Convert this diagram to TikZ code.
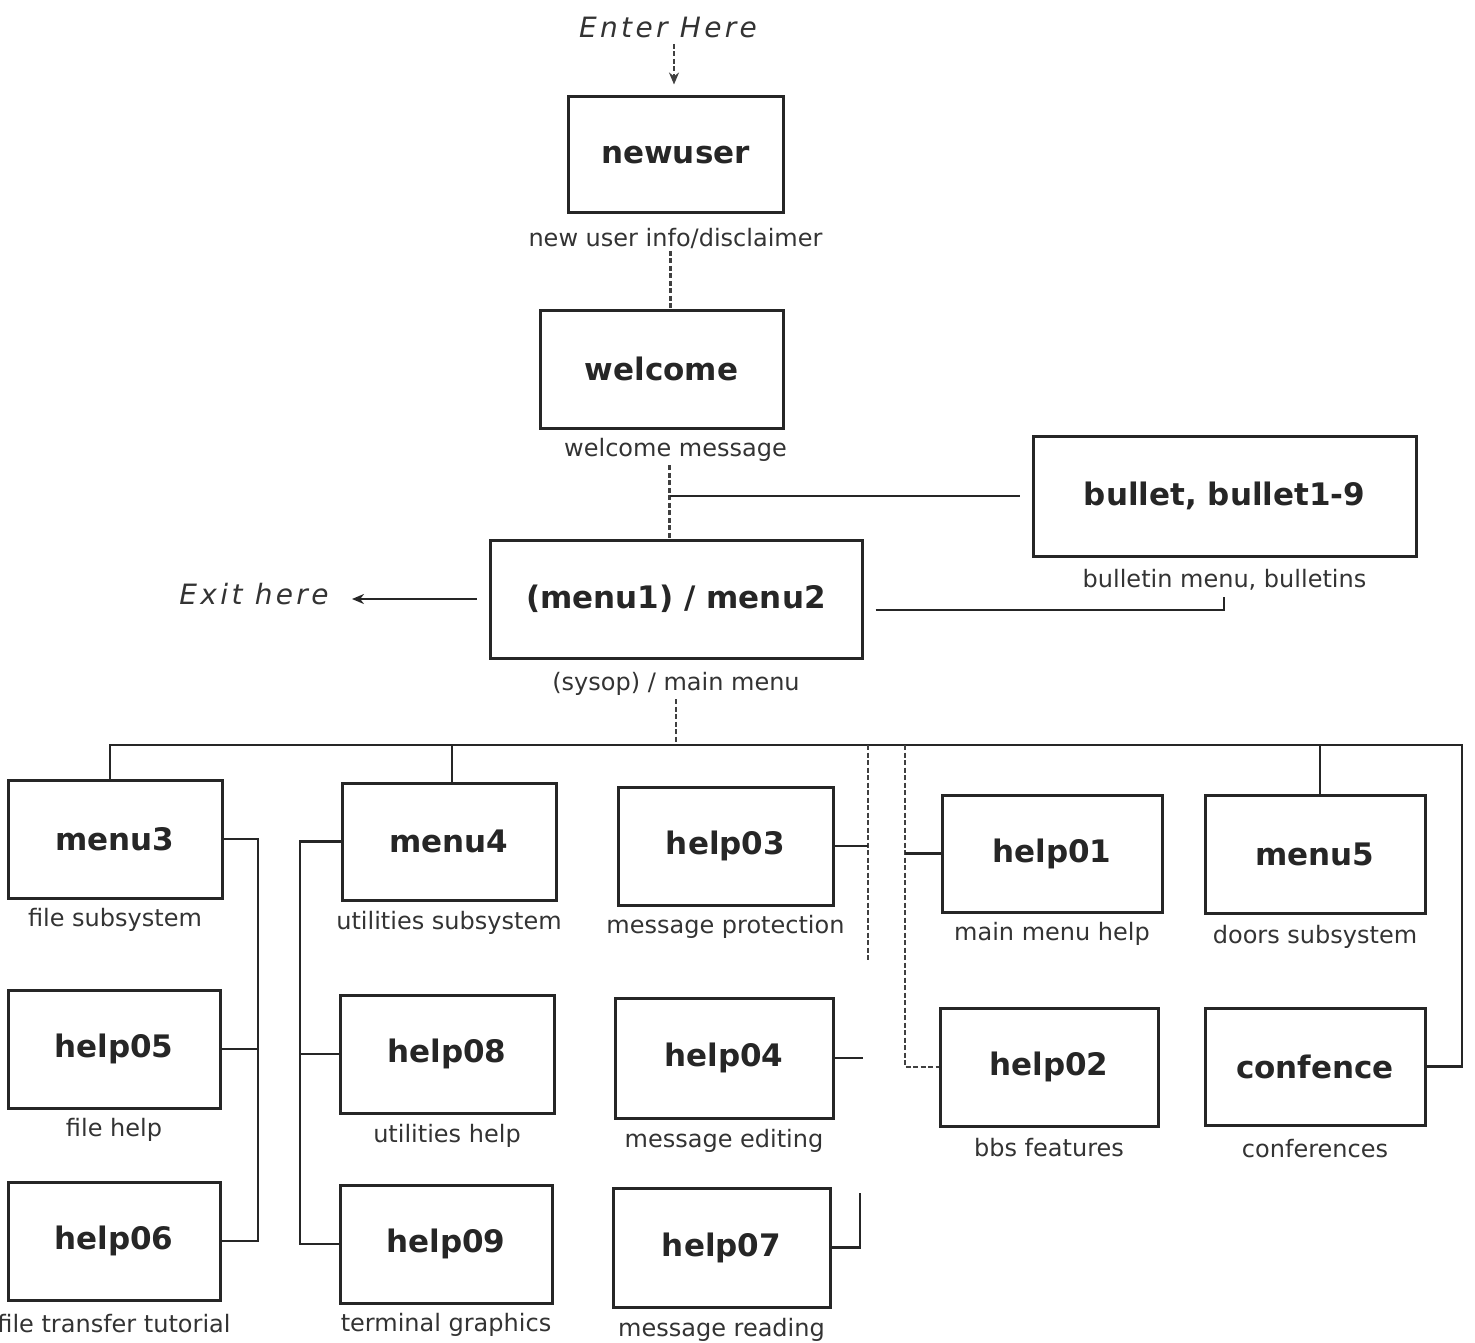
\documentclass[tikz,border=0pt]{standalone}
\usepackage{fontspec}
\setmainfont{DejaVu Sans}
\newfontfamily\itf[LetterSpace=12]{DejaVu Sans Oblique}
\usetikzlibrary{arrows.meta}
\begin{document}
\begin{tikzpicture}[x=1pt,y=-1pt,
  pagebox/.style={draw=black!85,line width=3pt,inner sep=0pt,
    font=\fontsize{31}{36}\selectfont\bfseries,text=black!85},
  captxt/.style={font=\fontsize{24}{28}\selectfont,text=black!80,inner sep=0pt},
  entry/.style={font=\fontsize{28}{34}\selectfont\itf,text=black!80,inner sep=0pt},
  link/.style={line width=2.6pt,draw=black!85},
  dlink/.style={line width=2.4pt,draw=black!75,dash pattern=on 5pt off 2.5pt},
]
\useasboundingbox (0,0) rectangle (1475,1343);

% boxes
\node[pagebox,minimum width=215pt,minimum height=116pt] (newuser) at (675.5,155) {newuser};
\node[pagebox,minimum width=243pt,minimum height=118pt] (welcome) at (661.5,369) {welcome};
\node[pagebox,minimum width=383pt,minimum height=120pt] (bullet) at (1224.5,496) {bullet, bullet1-9};
\node[pagebox,minimum width=372pt,minimum height=118pt] (menu) at (676,599) {(menu1) / menu2};

\node[pagebox,minimum width=214pt,minimum height=118pt] (menu3) at (115,839) {menu3};
\node[pagebox,minimum width=212pt,minimum height=118pt] (help05) at (114,1049) {help05};
\node[pagebox,minimum width=212pt,minimum height=118pt] (help06) at (114,1241) {help06};

\node[pagebox,minimum width=214pt,minimum height=117pt] (menu4) at (449,841.5) {menu4};
\node[pagebox,minimum width=214pt,minimum height=118pt] (help08) at (447,1054) {help08};
\node[pagebox,minimum width=212pt,minimum height=118pt] (help09) at (446,1244) {help09};

\node[pagebox,minimum width=215pt,minimum height=118pt] (help03) at (725.5,846) {help03};
\node[pagebox,minimum width=218pt,minimum height=120pt] (help04) at (724,1058) {help04};
\node[pagebox,minimum width=217pt,minimum height=119pt] (help07) at (721.5,1247.5) {help07};

\node[pagebox,minimum width=220pt,minimum height=117pt] (help01) at (1052,853.5) {help01};
\node[pagebox,minimum width=218pt,minimum height=118pt] (help02) at (1049,1067) {help02};
\node[pagebox,minimum width=220pt,minimum height=118pt] (menu5) at (1315,854) {menu5};
\node[pagebox,minimum width=220pt,minimum height=117pt] (confence) at (1315,1066.5) {confence};

% captions
\node[captxt] (c-newuser) at ([yshift=-24pt]newuser.south) {new user info/disclaimer};
\node[captxt] (c-welcome) at ([shift={(14pt,-20pt)}]welcome.south) {welcome message};
\node[captxt] (c-bullet) at ([yshift=-22pt]bullet.south) {bulletin menu, bulletins};
\node[captxt] (c-menu) at ([yshift=-24pt]menu.south) {(sysop) / main menu};
\node[captxt] (c-menu3) at ([yshift=-20pt]menu3.south) {file subsystem};
\node[captxt] (c-help05) at ([yshift=-20pt]help05.south) {file help};
\node[captxt] (c-help06) at ([yshift=-22pt]help06.south) {file transfer tutorial};
\node[captxt] (c-menu4) at ([yshift=-21pt]menu4.south) {utilities subsystem};
\node[captxt] (c-help08) at ([yshift=-21pt]help08.south) {utilities help};
\node[captxt] (c-help09) at ([yshift=-20pt]help09.south) {terminal graphics};
\node[captxt] (c-help03) at ([yshift=-20pt]help03.south) {message protection};
\node[captxt] (c-help04) at ([yshift=-21pt]help04.south) {message editing};
\node[captxt] (c-help07) at ([yshift=-21pt]help07.south) {message reading};
\node[captxt] (c-help01) at ([yshift=-20pt]help01.south) {main menu help};
\node[captxt] (c-help02) at ([yshift=-20pt]help02.south) {bbs features};
\node[captxt] (c-menu5) at ([yshift=-22pt]menu5.south) {doors subsystem};
\node[captxt] (c-confence) at ([yshift=-22pt]confence.south) {conferences};

% entry / exit texts
\node[entry] (enter) at (668,27) {Enter Here};
\node[entry] (exit) at (254,594) {Exit here};

% coordinates
\coordinate (busR) at (1462,745);
\coordinate (d1) at (868,745);
\coordinate (d1end) at (868,960);
\coordinate (d2) at (905,745);
\coordinate (lv) at (258,0);
\coordinate (rv) at (300,0);
\coordinate (h4end) at (863,1058);
\coordinate (h7top) at (860,1193);
\coordinate (bh) at (1224,597);
\coordinate (entryTail) at (674,44);
\coordinate (exitTip) at (352,599);

% top connectors
\draw[dlink,-{Stealth[length=12pt,width=10pt]}] (entryTail) -- ([xshift=-1.5pt,yshift=11pt]newuser.north);
\draw[dlink] ([xshift=-5pt,yshift=-2pt]c-newuser.south) -- ([xshift=-5pt]c-newuser.south |- welcome.north);
\draw[dlink] ([xshift=-6pt,yshift=-4pt]c-welcome.south) -- ([xshift=-6pt]c-welcome.south |- menu.north);
\draw[link] ([xshift=-6pt]c-welcome.south |- bullet.west) -- ([xshift=-12pt]bullet.west);
\draw[link,-{Stealth[length=12pt,width=10pt]}] ([xshift=-12pt]menu.west) -- (exitTip);
\draw[link] ([shift={(12pt,-11pt)}]menu.east) -| (bh);

% bus
\draw[dlink] ([yshift=-4pt]c-menu.south) -- (c-menu.south |- busR);
\draw[link] ([xshift=-5pt]menu3.north) |- (busR) |- (confence.east);
\draw[link] ([xshift=3pt]menu4.north) -- ([xshift=3pt]menu4.north |- busR);
\draw[link] ([xshift=5pt]menu5.north) -- ([xshift=5pt]menu5.north |- busR);

% middle dashed drops
\draw[dlink] (d1) -- (d1end);
\draw[link] (help03.east) -- (help03.east -| d1);
\draw[link] (help04.east) -- (h4end);
\draw[link] (help07.east) -| (h7top);
\draw[dlink] (d2) |- (help02.west);
\draw[link] (help01.west) -- (help01.west -| d2);

% left groups
\draw[link] (menu3.east) -- (menu3.east -| lv) -- (help06.east -| lv) -- (help06.east);
\draw[link] (help05.east) -- (help05.east -| lv);
\draw[link] (menu4.west) -- (menu4.west -| rv) -- (help09.west -| rv) -- (help09.west);
\draw[link] (help08.west) -- (help08.west -| rv);
\end{tikzpicture}
\end{document}
